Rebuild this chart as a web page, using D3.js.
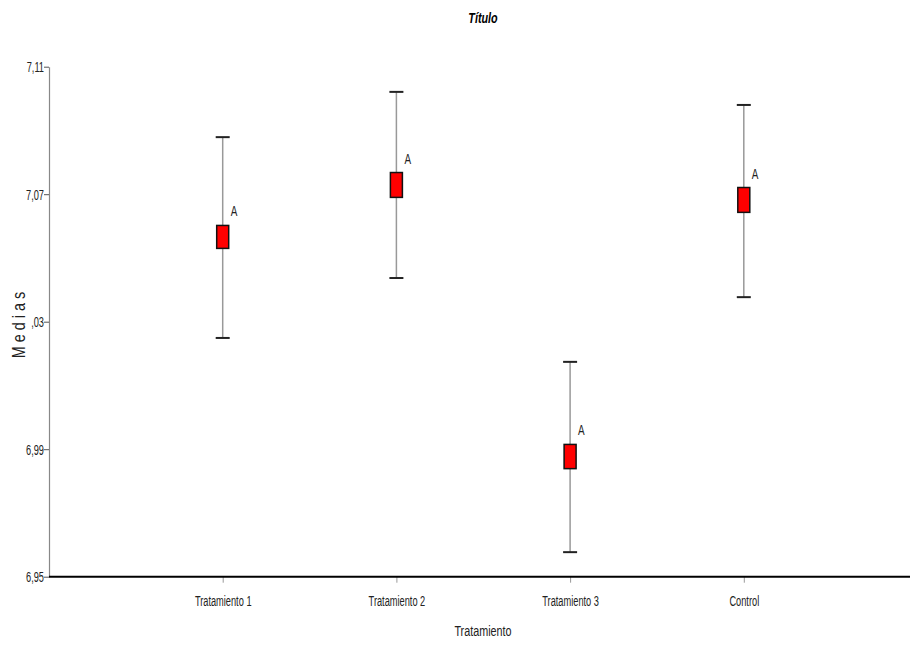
<!DOCTYPE html>
<html>
<head>
<meta charset="utf-8">
<script src="https://cdn.jsdelivr.net/npm/d3@7"></script>
<style>
  body { margin: 0; background: #fff; }
  svg { display: block; }
  text { font-family: "Liberation Sans", Arial, sans-serif; }
</style>
</head>
<body>
<svg id="chart" width="910" height="646"></svg>
<script>
// ---- data ----
const categories = ["Tratamiento 1", "Tratamiento 2", "Tratamiento 3", "Control"];
const means      = [7.0566, 7.0729, 6.9877, 7.0682];
const ciLow      = [7.0249, 7.0437, 6.9577, 7.0377];
const ciHigh     = [7.0879, 7.1021, 7.0174, 7.0980];
const seHalf     = [0.0036, 0.0039, 0.0038, 0.0039];
const letters    = ["A", "A", "A", "A"];
const yTickValues = [6.95, 6.99, 7.03, 7.07, 7.11];
const yTickLabels = ["6,95", "6,99", ",03", "7,07", "7,11"];
const titleText = "Título";
const xTitle = "Tratamiento";
const yTitle = "M e d i a s";

const svg = d3.select("#chart");
const axisX0 = 49, axisX1 = 910;
const SX = 0.66; // condensed look

const x = d3.scalePoint().domain(categories).range([49, 917.5]).padding(1);
const y = d3.scaleLinear().domain([6.95, 7.11]).range([576.7, 66.7]);

function narrowText(parent, px, py, str, size, sx, anchor) {
  return parent.append("text")
    .attr("transform", `translate(${px},${py}) scale(${sx},1)`)
    .attr("text-anchor", anchor || "middle")
    .style("font-size", size + "px").attr("fill", "#222").text(str);
}

// title
narrowText(svg, 483, 23, titleText, 15, 0.72, "middle")
  .style("font-weight", "bold").style("font-style", "italic").attr("fill", "#000");

// y axis
const yAxis = svg.append("g").attr("transform", `translate(${axisX0},0)`)
  .call(d3.axisLeft(y).tickValues(yTickValues).tickFormat((d, i) => yTickLabels[i]).tickSize(5).tickSizeOuter(0));
yAxis.select(".domain").attr("stroke", "#888").attr("stroke-width", 1.2);
yAxis.selectAll(".tick line").attr("stroke", "#555");
yAxis.selectAll(".tick text").attr("x", null).attr("dy", "0.35em")
  .attr("transform", `translate(-5,0) scale(${SX},1)`)
  .style("font-size", "14px").attr("fill", "#222");

// x axis
const xAxis = svg.append("g").attr("transform", `translate(0,${y(6.95)})`)
  .call(d3.axisBottom(x).tickSize(6).tickSizeOuter(0));
xAxis.select(".domain").remove();
xAxis.selectAll(".tick line").attr("stroke", "#999");
xAxis.selectAll(".tick text").attr("y", null).attr("dy", null)
  .attr("transform", `translate(0,29) scale(${SX},1)`)
  .style("font-size", "14px").attr("fill", "#222");
svg.append("line").attr("x1", axisX0).attr("x2", axisX1)
  .attr("y1", y(6.95)).attr("y2", y(6.95)).attr("stroke", "#000").attr("stroke-width", 2);

// axis titles
narrowText(svg, 483, 636, xTitle, 15, 0.72, "middle");
svg.append("text")
  .attr("transform", `translate(25,325) rotate(-90) scale(0.8,1)`)
  .attr("text-anchor", "middle")
  .style("font-size", "18px").attr("fill", "#222").text(yTitle);

// marks
const g = svg.append("g");
const items = categories.map((c, i) => ({c, m: means[i], lo: ciLow[i], hi: ciHigh[i], se: seHalf[i], l: letters[i]}));
const boxW = 12, capW = 14;

g.selectAll(".whisker").data(items).join("line")
  .attr("x1", d => x(d.c)).attr("x2", d => x(d.c))
  .attr("y1", d => y(d.hi)).attr("y2", d => y(d.lo))
  .attr("stroke", "#999").attr("stroke-width", 1.5);
g.selectAll(".capT").data(items).join("line")
  .attr("x1", d => x(d.c) - capW / 2).attr("x2", d => x(d.c) + capW / 2)
  .attr("y1", d => y(d.hi)).attr("y2", d => y(d.hi))
  .attr("stroke", "#222").attr("stroke-width", 2);
g.selectAll(".capB").data(items).join("line")
  .attr("x1", d => x(d.c) - capW / 2).attr("x2", d => x(d.c) + capW / 2)
  .attr("y1", d => y(d.lo)).attr("y2", d => y(d.lo))
  .attr("stroke", "#222").attr("stroke-width", 2);
g.selectAll(".box").data(items).join("rect")
  .attr("x", d => x(d.c) - boxW / 2).attr("width", boxW)
  .attr("y", d => y(d.m + d.se)).attr("height", d => y(d.m - d.se) - y(d.m + d.se))
  .attr("fill", "#ff0000").attr("stroke", "#111").attr("stroke-width", 1.5);
g.selectAll(".letter").data(items).join("text")
  .attr("transform", d => `translate(${x(d.c) + 8},${y(d.m + d.se) - 9}) scale(${SX},1)`)
  .style("font-size", "15px").attr("fill", "#222").text(d => d.l);
</script>
</body>
</html>
